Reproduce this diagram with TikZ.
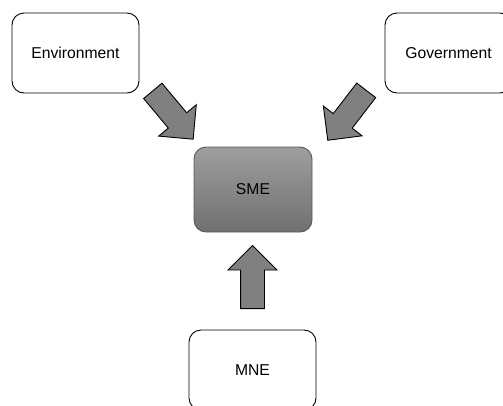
\documentclass[tikz,border=0pt]{standalone}
\usepackage{fontspec}
\setmainfont{Liberation Sans}
\usepackage{tikz}
\usetikzlibrary{shapes.arrows}
\definecolor{smeTop}{RGB}{158,158,158}
\definecolor{smeBot}{RGB}{112,112,112}
\definecolor{arrGray}{RGB}{128,128,128}

\begin{document}
\begin{tikzpicture}[x=1pt, y=-1pt]

    % Page frame
    \useasboundingbox (0,0) rectangle (503,405);
    \clip (0,0) rectangle (503,405);

    % Boxes
    \tikzset{nB/.style={draw=black, line width=0.9pt, rounded corners=12pt, minimum width=127pt, minimum height=80pt, inner sep=0pt, font=\fontsize{15.7}{19}\selectfont}}
    \tikzset{wB/.style={nB, fill=white}}
    \tikzset{gB/.style={nB, draw=black!65, minimum width=118pt, minimum height=85pt, top color=smeTop, bottom color=smeBot}}

    % Block arrows
    \tikzset{bA/.style={draw=black, line width=0.9pt, fill=arrGray, single arrow, single arrow head extend=12.5pt, inner xsep=0pt, inner ysep=11.5pt, minimum height=63pt, sloped, allow upside down, pos=0, anchor=tail}}

    % Nodes
    \node (env) [wB] at ( 75.5, 53) {Environment};
    \node (gov) [wB] at (448.5, 53) {Government};
    \node (sme) [gB] at (253, 189.5) {SME};
    \node (mne) [wB] at (252.5, 370) {MNE};

    % Arrow ends
    \coordinate (envT) at (152.5, 90.5);
    \coordinate (envH) at (193, 139);
    \coordinate (govT) at (366.5, 90);
    \coordinate (govH) at (328, 140);
    \coordinate (mneT) at (252.5, 309);
    \coordinate (mneH) at (252.5, 246);

    % Arrows into SME
    \path (envT) -- node[bA] {} (envH);
    \path (govT) -- node[bA] {} (govH);
    \path (mneT) -- node[bA] {} (mneH);

\end{tikzpicture}
\end{document}
